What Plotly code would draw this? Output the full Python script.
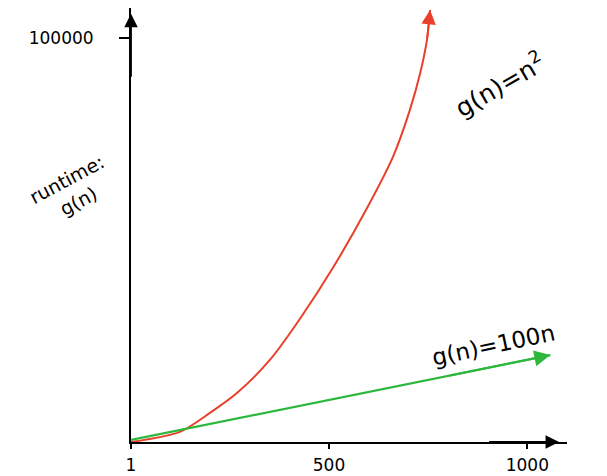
import plotly.graph_objects as go

# Values
n_quad = [1, 124, 200, 268, 351, 427, 510, 596, 661, 704, 730, 747, 755]
g_quad = [0, 2500, 7200, 12100, 20300, 30500, 43100, 57900, 70500, 82200, 91300, 99500, 106900]

n_lin = [1, 1058]
g_lin = [500, 21500]

x_tick_vals = [1, 500, 1000]
x_tick_text = ["1", "500", "1000"]
y_tick_vals = [100000]
y_tick_text = ["100000"]

RED = "#e8402a"
GREEN = "#2db83d"
FONT = "DejaVu Sans"

fig = go.Figure()
fig.add_trace(go.Scatter(x=n_quad, y=g_quad, mode="lines",
                         line=dict(color=RED, width=2, shape="spline", smoothing=0.8),
                         showlegend=False, hoverinfo="skip"))
fig.add_trace(go.Scatter(x=n_lin, y=g_lin, mode="lines",
                         line=dict(color=GREEN, width=2.2),
                         showlegend=False, hoverinfo="skip"))

annotations = []
# arrowheads on curves
annotations.append(dict(x=n_quad[-1], y=g_quad[-1], ax=n_quad[-2], ay=g_quad[-2],
                        xref="x", yref="y", axref="x", ayref="y", text="",
                        showarrow=True, arrowhead=2, arrowsize=1.6, arrowwidth=1.8,
                        arrowcolor=RED))
annotations.append(dict(x=n_lin[-1], y=g_lin[-1], ax=n_lin[0] + 800,
                        ay=g_lin[0] + (g_lin[-1] - g_lin[0]) * (800 / (n_lin[-1] - n_lin[0])),
                        xref="x", yref="y", axref="x", ayref="y", text="",
                        showarrow=True, arrowhead=2, arrowsize=1.6, arrowwidth=2,
                        arrowcolor=GREEN))
# axis arrows
annotations.append(dict(x=1080, y=0, ax=900, ay=0, xref="x", yref="y", axref="x", ayref="y",
                        text="", showarrow=True, arrowhead=2, arrowsize=1.5, arrowwidth=1.8,
                        arrowcolor="black"))
annotations.append(dict(x=1, y=106000, ax=1, ay=90000, xref="x", yref="y", axref="x", ayref="y",
                        text="", showarrow=True, arrowhead=2, arrowsize=1.5, arrowwidth=1.8,
                        arrowcolor="black"))
# labels
annotations.append(dict(x=1095, y=-800, xref="x", yref="y", text="n", showarrow=False,
                        font=dict(family=FONT, size=22, color="black"), xanchor="left", yanchor="top"))
annotations.append(dict(x=930, y=88500, xref="x", yref="y", text="g(n)=n<sup>2</sup>", showarrow=False,
                        xanchor="center", yanchor="middle",
                        textangle=-30, font=dict(family=FONT, size=25, color="black")))
annotations.append(dict(x=915, y=24000, xref="x", yref="y", text="g(n)=100n", showarrow=False,
                        xanchor="center", yanchor="middle",
                        textangle=-12, font=dict(family=FONT, size=23, color="black")))
annotations.append(dict(x=-0.135, y=0.58, xref="paper", yref="paper", text="runtime:<br>g(n)",
                        showarrow=False, textangle=-28, xanchor="center", yanchor="middle",
                        font=dict(family=FONT, size=19, color="black")))

fig.update_layout(
    width=607, height=476,
    margin=dict(l=123, r=48, t=0, b=42),
    paper_bgcolor="white", plot_bgcolor="white",
    font=dict(family=FONT, size=16, color="black"),
    xaxis=dict(range=[1, 1100], showgrid=False, zeroline=False, showline=True, automargin=False,
               linecolor="black", linewidth=2, tickvals=x_tick_vals, ticktext=x_tick_text,
               ticks="outside", ticklen=5, tickwidth=1.5, tickcolor="black",
               ticklabelstandoff=2, tickfont=dict(family=FONT, size=17)),
    yaxis=dict(range=[0, 107400], showgrid=False, zeroline=False, showline=True, automargin=False,
               linecolor="black", linewidth=2, tickvals=y_tick_vals, ticktext=y_tick_text,
               ticks="outside", ticklen=10, tickwidth=1.5, tickcolor="black",
               ticklabelstandoff=22, tickfont=dict(family=FONT, size=17)),
    annotations=annotations,
    showlegend=False,
)

fig.write_html("out.html")
